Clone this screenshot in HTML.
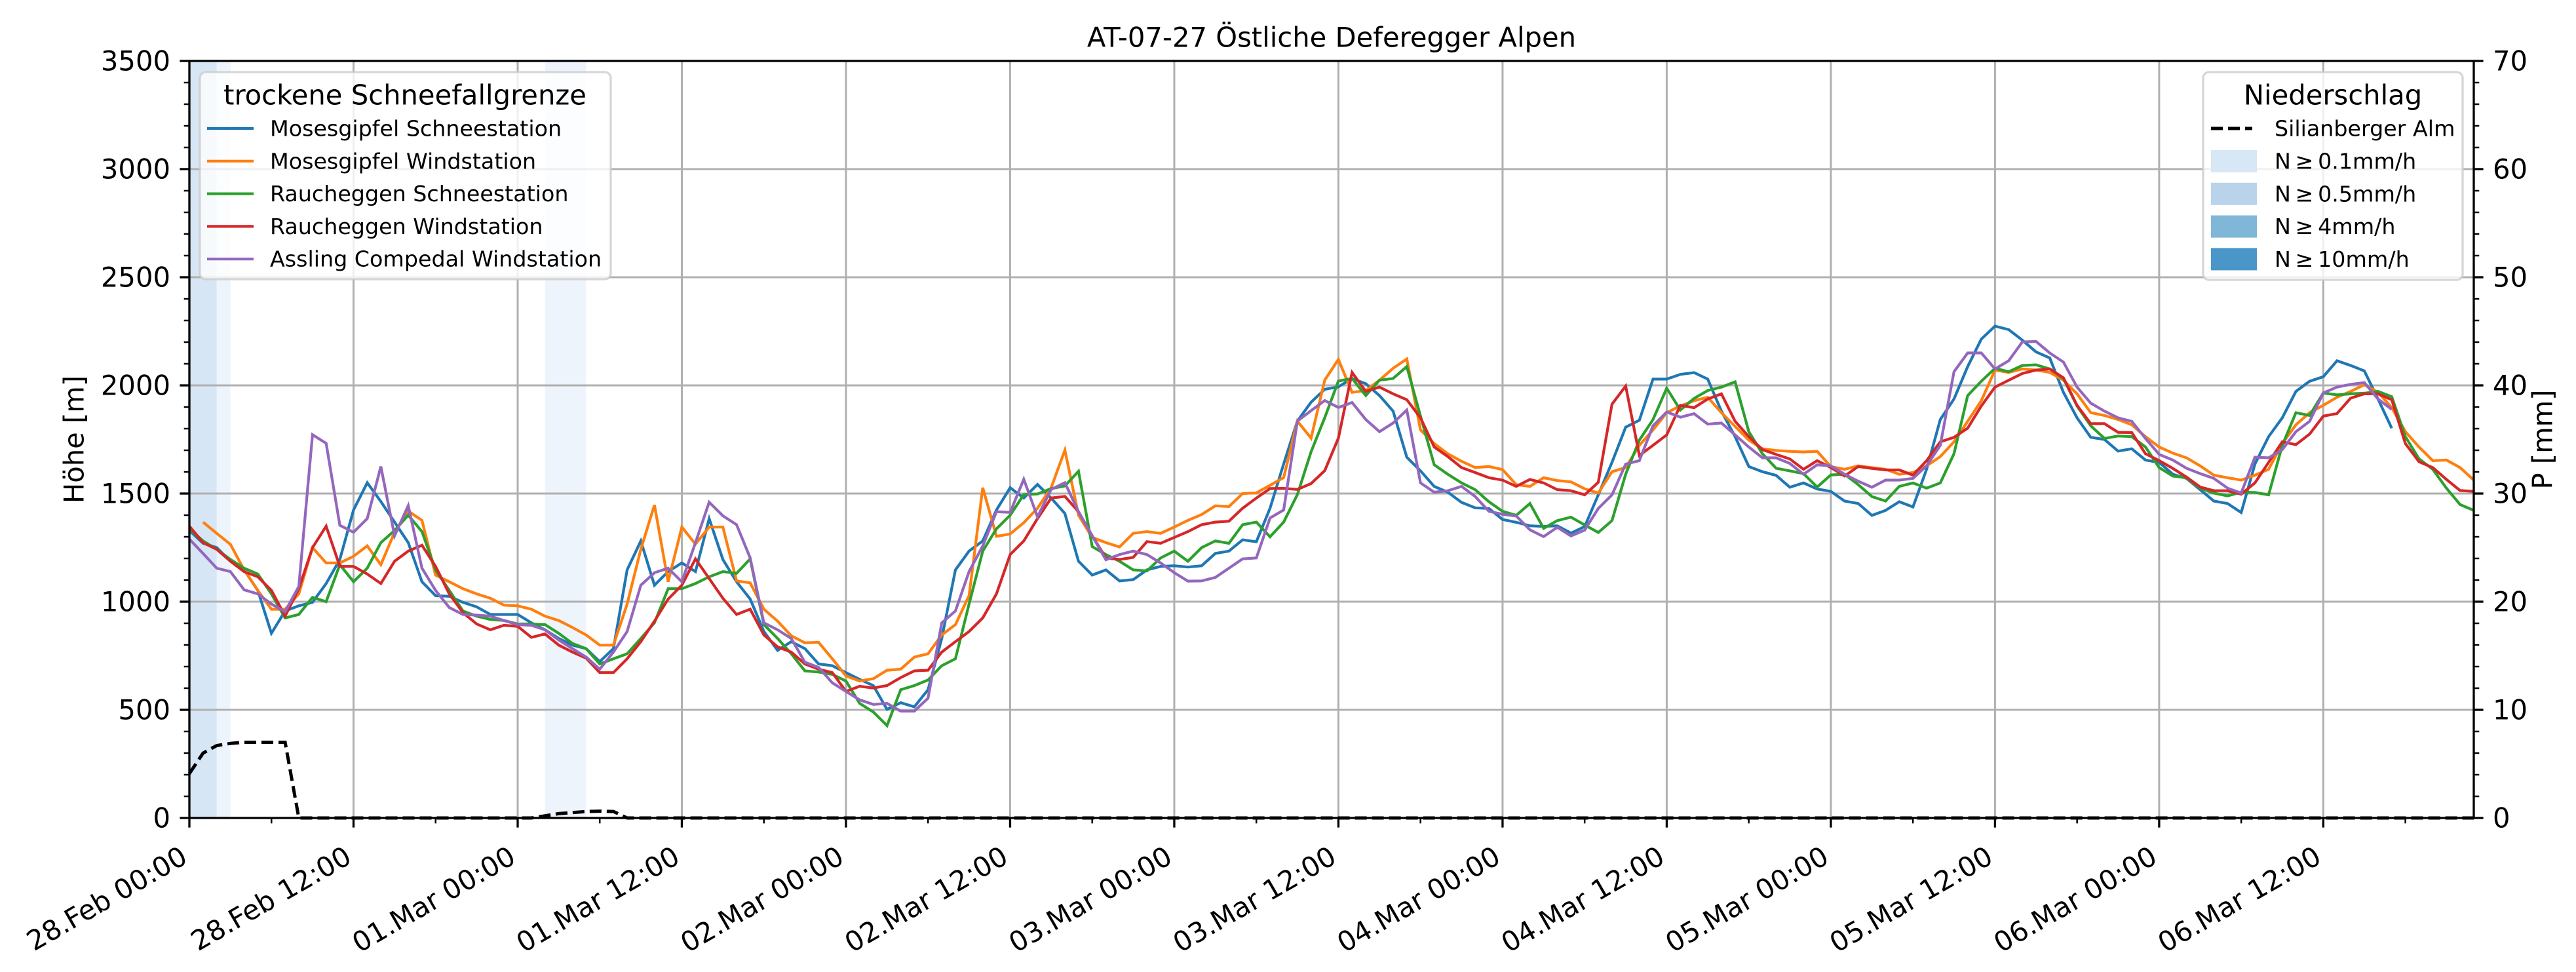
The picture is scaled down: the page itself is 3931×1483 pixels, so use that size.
<!DOCTYPE html>
<html><head><meta charset="utf-8"><title>AT-07-27 Östliche Deferegger Alpen</title>
<style>html,body{margin:0;padding:0;background:#fff}svg{display:block}text{font-family:"DejaVu Sans","Liberation Sans",sans-serif;fill:#000}</style>
</head><body>
<svg id="chart" width="3931" height="1483" viewBox="0 0 3931 1483" xmlns="http://www.w3.org/2000/svg">
<rect width="3931" height="1483" fill="#fff"/>
<g id="bands"></g><g id="grid"></g><g id="series"></g><g id="axes"></g><g id="legends"></g>
</svg>
<script>
const hoursTotal = 167;
const tickDates = ["28.Feb","28.Feb","01.Mar","01.Mar","02.Mar","02.Mar","03.Mar","03.Mar","04.Mar","04.Mar","05.Mar","05.Mar","06.Mar","06.Mar"];
const tickTimes = ["00:00","12:00","00:00","12:00","00:00","12:00","00:00","12:00","00:00","12:00","00:00","12:00","00:00","12:00"];
const leftTicks = [0,500,1000,1500,2000,2500,3000,3500];
const rightTicks = [0,10,20,30,40,50,60,70];
const seriesNames = ["Mosesgipfel Schneestation","Mosesgipfel Windstation","Raucheggen Schneestation","Raucheggen Windstation","Assling Compedal Windstation"];
const seriesColors = ["#1f77b4","#ff7f0e","#2ca02c","#d62728","#9467bd"];
const mosesSchnee = [1329,1270,1250,1187,1147,1052,854,957,981,997,1084,1195,1424,1550,1463,1368,1273,1092,1028,1025,997,976,941,941,941,902,870,830,799,783,723,783,1147,1281,1076,1139,1179,1139,1384,1195,1092,1012,862,775,
815,783,712,704,672,641,612,502,533,514,593,830,1147,1234,1281,1424,1527,1479,1542,1479,1408,1187,1123,1147,1096,1102,1147,1163,1166,1160,1166,1223,1234,1286,1277,1432,1637,1835,1922,1982,1993,
2032,2008,1953,1881,1668,1605,1533,1506,1459,1434,1431,1380,1367,1351,1348,1351,1317,1347,1494,1644,1807,1839,2029,2029,2051,2059,2029,1881,1763,1625,1601,1584,1529,1549,1521,1510,1465,1454,1399,1422,1462,
1438,1612,1842,1937,2087,2214,2274,2258,2209,2155,2127,1968,1850,1760,1750,1696,1707,1655,1644,1589,1570,1518,1465,1454,1412,1636,1763,1850,1972,2019,2040,2114,2092,2067,1937,1802];
const mosesWind = [null,1368,1316,1265,1147,1052,965,965,1036,1250,1179,1179,1210,1258,1171,1321,1419,1376,1123,1092,1060,1036,1016,984,981,965,933,913,881,846,799,799,989,1242,1447,1092,1345,1266,1345,1345,1096,1087,965,910,
842,810,812,736,657,633,644,683,688,744,759,846,894,1028,1527,1302,1313,1365,1432,1527,1701,1400,1297,1273,1253,1316,1324,1316,1345,1376,1403,1443,1440,1500,1503,1538,1574,1835,1756,2025,2120,
1968,1976,2024,2079,2122,1794,1731,1684,1649,1620,1625,1611,1541,1533,1573,1560,1554,1522,1502,1601,1620,1723,1794,1874,1905,1929,1945,1874,1810,1747,1707,1699,1695,1692,1695,1624,1612,1628,1620,1612,1589,
1597,1628,1671,1739,1834,1929,2071,2060,2076,2071,2060,2024,1961,1874,1861,1842,1818,1763,1715,1687,1665,1628,1585,1573,1562,1585,1612,1731,1818,1874,1908,1945,1972,2003,1968,1897,1786,1715,1652,1655,1620,1562];
const rauchSchnee = [1337,1281,1242,1195,1155,1128,1036,925,941,1020,1000,1171,1092,1155,1273,1329,1400,1324,1147,1052,957,933,918,913,897,897,894,854,807,783,712,736,759,830,902,1060,1060,1084,1115,1139,1131,1198,894,830,
759,680,675,664,633,530,490,427,593,612,638,704,736,989,1234,1337,1400,1495,1498,1523,1535,1603,1255,1218,1187,1147,1142,1202,1234,1187,1250,1281,1270,1356,1368,1300,1368,1495,1693,1851,2020,
2032,1953,2024,2032,2087,1858,1633,1589,1549,1518,1462,1418,1399,1454,1339,1375,1391,1355,1320,1375,1589,1747,1842,1987,1886,1940,1976,1992,2016,1786,1684,1617,1605,1592,1530,1586,1589,1541,1486,1465,1533,
1549,1525,1549,1684,1953,2019,2079,2063,2092,2095,2076,2032,1905,1813,1755,1766,1763,1715,1620,1581,1573,1525,1502,1489,1506,1505,1494,1723,1874,1861,1965,1956,1961,1964,1972,1948,1763,1660,1612,1525,1449,1422];
const rauchWind = [1349,1273,1242,1187,1139,1115,1052,933,1060,1250,1349,1163,1163,1128,1084,1187,1234,1261,1163,1036,949,897,870,891,886,835,851,799,767,739,672,672,736,815,910,1012,1076,1198,1107,1016,941,965,846,791,
767,712,688,672,585,609,601,612,649,680,683,767,815,862,925,1036,1218,1281,1384,1479,1487,1416,1305,1202,1195,1205,1278,1270,1297,1324,1356,1368,1372,1432,1479,1523,1524,1519,1546,1606,1756,
2060,1972,1992,1961,1934,1850,1715,1671,1620,1597,1573,1562,1533,1565,1549,1518,1513,1494,1552,1913,1997,1676,1723,1771,1908,1897,1937,1961,1834,1763,1703,1681,1660,1612,1652,1620,1581,1625,1616,1609,1609,
1585,1652,1739,1760,1802,1905,1992,2024,2055,2071,2076,2035,1908,1823,1823,1783,1782,1684,1652,1616,1576,1530,1513,1513,1497,1549,1644,1739,1726,1775,1858,1870,1941,1961,1961,1934,1731,1647,1620,1565,1514,1510];
const asslingWind = [1289,1223,1155,1139,1055,1036,989,954,1071,1772,1732,1353,1321,1384,1625,1305,1444,1155,1052,973,941,938,933,913,894,891,870,823,783,744,688,767,862,1076,1134,1155,1092,1273,1460,1397,1356,1202,902,870,
830,720,696,625,585,546,525,530,494,494,554,902,957,1139,1258,1416,1413,1566,1392,1519,1550,1416,1305,1194,1218,1234,1218,1179,1134,1095,1096,1112,1155,1198,1202,1387,1424,1835,1883,1930,1898,
1921,1842,1786,1826,1886,1549,1506,1513,1533,1486,1418,1404,1396,1332,1301,1344,1304,1331,1431,1494,1636,1652,1813,1877,1853,1869,1821,1826,1771,1715,1665,1665,1639,1589,1633,1628,1589,1557,1529,1562,1562,
1570,1628,1723,2063,2150,2150,2076,2114,2201,2203,2150,2108,1992,1918,1881,1850,1834,1755,1681,1655,1617,1592,1570,1525,1502,1668,1665,1703,1786,1834,1965,1992,2005,2013,1937,1889];
const precipHead = [4.1,6.0,6.7,6.9,7.0,7.0,7.0,7.0,0,0,0,0,0,0,0,0,0,0,0,0,0,0,0,0,0,0,0.2,0.4,0.5,0.6,0.63,0.6,0];
const bandStart = [0,2,26];
const bandEnd = [2,3,29];
const bandLevel = [0.5,0.1,0.1];
const legendLevels = ["0.1","0.5","4","10"];
const legendLevelColors = ["#d8e7f5","#b9d4ea","#80b7d8","#4a96c8"];

const NS="http://www.w3.org/2000/svg";
const X0=289,X1=3775,Y0=1248,Y1=93;
function xs(h){return X0+h*(X1-X0)/hoursTotal;}
function yl(v){return Y0-v*(Y0-Y1)/3500;}
function yr(p){return Y0-p*(Y0-Y1)/70;}
function mk(tag,attrs,parent){const e=document.createElementNS(NS,tag);for(const k in attrs)e.setAttribute(k,attrs[k]);parent.appendChild(e);return e;}
const gB=document.getElementById('bands'),gG=document.getElementById('grid'),gS=document.getElementById('series'),gA=document.getElementById('axes'),gL=document.getElementById('legends');

for(let i=0;i<bandStart.length;i++){
  const r=mk('rect',{x:xs(bandStart[i]),y:Y1,width:xs(bandEnd[i])-xs(bandStart[i]),height:Y0-Y1,fill:bandLevel[i]>=0.5?'#d7e6f4':'#eef4fb'},gB);
  
  
}
for(let i=0;i<tickDates.length;i++){
  const l=mk('line',{x1:xs(i*12),x2:xs(i*12),y1:Y1,y2:Y0,stroke:'#b0b0b0','stroke-width':3},gG);
  
  
}
leftTicks.forEach(v=>{
  const l=mk('line',{x1:X0,x2:X1,y1:yl(v),y2:yl(v),stroke:'#b0b0b0','stroke-width':3},gG);
  
  
});
const allSeries=[mosesSchnee,mosesWind,rauchSchnee,rauchWind,asslingWind];
allSeries.forEach((arr,si)=>{
  let d='';let pen=false;
  arr.forEach((v,h)=>{if(v==null){pen=false;return;}d+=(pen?'L':'M')+xs(h).toFixed(1)+' '+yl(v).toFixed(1);pen=true;});
  const p=mk('path',{d:d,fill:'none',stroke:seriesColors[si],'stroke-width':4.2,'stroke-linejoin':'miter'},gS);
  
  
});
{
  let d='';
  for(let h=0;h<=hoursTotal;h++){const p=h<precipHead.length?precipHead[h]:0;d+=(h?'L':'M')+xs(h).toFixed(1)+' '+yr(p).toFixed(1);}
  const p=mk('path',{d:d,fill:'none',stroke:'#000','stroke-width':5,'stroke-dasharray':'18 8'},gS);
  
  
}
const fr=mk('rect',{x:X0,y:Y1,width:X1-X0,height:Y0-Y1,fill:'none',stroke:'#000','stroke-width':3.3},gA);


for(let h=0;h<=hoursTotal;h+=6){
  const major=h%12===0;
  mk('line',{x1:xs(h),x2:xs(h),y1:Y0,y2:Y0+(major?14.6:8.3),stroke:'#000','stroke-width':major?3.3:2.5},gA);
}
for(let i=0;i<tickDates.length;i++){
  const x=xs(i*12)-16,y=Y0+40;
  const t=mk('text',{x:x,y:y,'font-size':41.7,'text-anchor':'end','dominant-baseline':'hanging',transform:`rotate(-30 ${x} ${y})`},gA);
  t.textContent=tickDates[i]+' '+tickTimes[i];
  
  
}
for(let v=0;v<=3500;v+=100){
  const major=v%500===0;
  mk('line',{x1:X0,x2:X0-(major?14.6:8.3),y1:yl(v),y2:yl(v),stroke:'#000','stroke-width':major?3.3:2.5},gA);
}
leftTicks.forEach(v=>{
  const t=mk('text',{x:X0-29,y:yl(v),'font-size':41.7,'text-anchor':'end','dominant-baseline':'central'},gA);
  t.textContent=v;
  
  
});
for(let p=0;p<=70;p+=2){
  const major=p%10===0;
  mk('line',{x1:X1,x2:X1+(major?14.6:8.3),y1:yr(p),y2:yr(p),stroke:'#000','stroke-width':major?3.3:2.5},gA);
}
rightTicks.forEach(p=>{
  const t=mk('text',{x:X1+29,y:yr(p),'font-size':41.7,'text-anchor':'start','dominant-baseline':'central'},gA);
  t.textContent=p;
  
  
});
{
  let t=mk('text',{x:(X0+X1)/2,y:57,'font-size':41.7,'text-anchor':'middle','dominant-baseline':'central'},gA);
  t.textContent='AT-07-27 Östliche Deferegger Alpen';
  
  
  t=mk('text',{x:113,y:(Y0+Y1)/2,'font-size':41.7,'text-anchor':'middle','dominant-baseline':'central',transform:`rotate(-90 113 ${(Y0+Y1)/2})`},gA);
  t.textContent='Höhe [m]';
  
  
  t=mk('text',{x:3880,y:(Y0+Y1)/2,'font-size':41.7,'text-anchor':'middle','dominant-baseline':'central',transform:`rotate(-90 3880 ${(Y0+Y1)/2})`},gA);
  t.textContent='P [mm]';
  
  
}
{
  const g=mk('g',{},gL);
  
  
  mk('rect',{x:305,y:110,width:627,height:316,rx:9,fill:'#fff','fill-opacity':0.8,stroke:'#cccccc','stroke-opacity':0.8,'stroke-width':3.3},g);
  const tt=mk('text',{x:618,y:145,'font-size':41.7,'text-anchor':'middle','dominant-baseline':'central'},g);
  tt.textContent='trockene Schneefallgrenze';
  
  
  seriesNames.forEach((n,i)=>{
    const y=196+i*49.8;
    const ln=mk('line',{x1:316,x2:387,y1:y,y2:y,stroke:seriesColors[i],'stroke-width':4.2},g);
    
    
    const t=mk('text',{x:412,y:y,'font-size':33.3,'dominant-baseline':'central'},g);
    t.textContent=n;
    
    
  });
}
{
  const g=mk('g',{},gL);
  
  
  mk('rect',{x:3362,y:110,width:396,height:317,rx:9,fill:'#fff','fill-opacity':0.8,stroke:'#cccccc','stroke-opacity':0.8,'stroke-width':3.3},g);
  const tt=mk('text',{x:3560,y:145,'font-size':41.7,'text-anchor':'middle','dominant-baseline':'central'},g);
  tt.textContent='Niederschlag';
  
  
  const ln=mk('line',{x1:3374,x2:3437,y1:196,y2:196,stroke:'#000','stroke-width':5,'stroke-dasharray':'18 8'},g);
  
  
  let t=mk('text',{x:3471,y:196,'font-size':33.3,'dominant-baseline':'central'},g);
  t.textContent='Silianberger Alm';
  
  
  legendLevels.forEach((lv,i)=>{
    const y=246+i*49.8;
    const r=mk('rect',{x:3374,y:y-17,width:70,height:34,fill:legendLevelColors[i]},g);
    
    
    const tx=mk('text',{x:3471,y:y,'font-size':33.3,'dominant-baseline':'central'},g);
    tx.textContent='N\u2009≥\u2009'+lv+'mm/h';
    
    
  });
}
</script>
</body></html>
